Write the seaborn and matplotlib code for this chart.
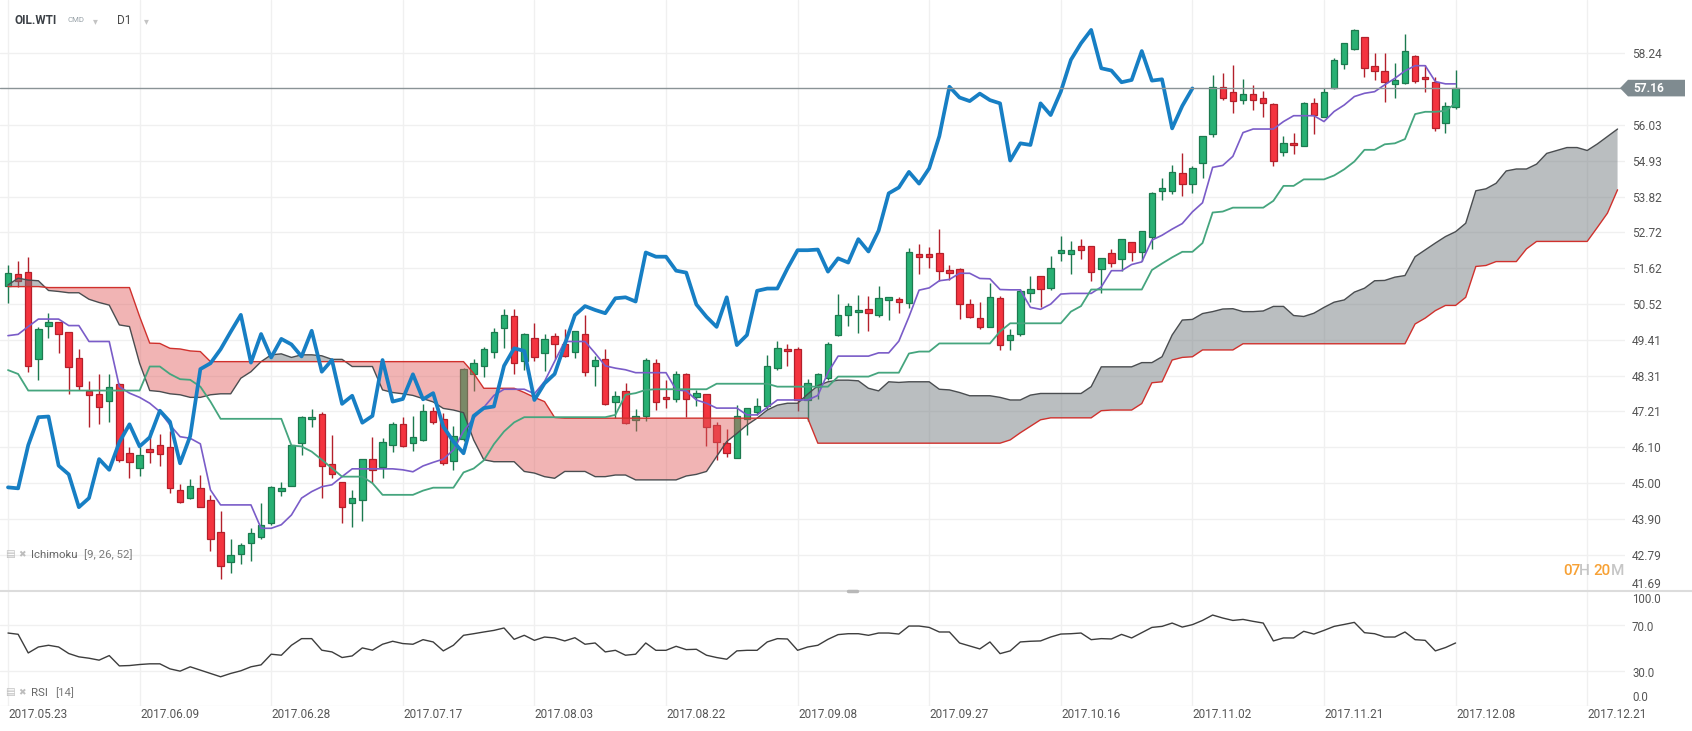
import numpy as np
import matplotlib
matplotlib.use("Agg")
import matplotlib.pyplot as plt
import matplotlib.transforms as mtransforms
from matplotlib.patches import Polygon
from matplotlib.lines import Line2D
import seaborn as sns

# ---------------- data ----------------
symbol = "OIL.WTI"
market = "CMD"
timeframe = "D1"
ichimoku_label = "Ichimoku"
ichimoku_params = "[9, 26, 52]"
rsi_label = "RSI"
rsi_params = "[14]"
last_price = 57.16
countdown = ["07", "H", "20", "M"]

date_labels = ["2017.05.23", "2017.06.09", "2017.06.28", "2017.07.17", "2017.08.03",
               "2017.08.22", "2017.09.08", "2017.09.27", "2017.10.16", "2017.11.02",
               "2017.11.21", "2017.12.08", "2017.12.21"]
date_label_bars = [0, 13, 26, 39, 52, 65, 78, 91, 104, 117, 130, 143, 156]

price_ticks = [41.69, 42.79, 43.90, 45.00, 46.10, 47.21, 48.31, 49.41, 50.52,
               51.62, 52.72, 53.82, 54.93, 56.03, 58.24]
price_tick_labels = ["41.69", "42.79", "43.90", "45.00", "46.10", "47.21", "48.31", "49.41",
                     "50.52", "51.62", "52.72", "53.82", "54.93", "56.03", "58.24"]
rsi_ticks = [100, 70, 30, 0]
rsi_tick_labels = ["100.0", "70.0", "30.0", "0.0"]

open_ = [51.08, 51.43, 51.49, 48.81, 49.85, 49.95, 49.64, 48.84, 47.85, 47.75,
         47.52, 48.04, 45.92, 45.46, 46.04, 46.17, 46.10, 44.79, 44.54, 44.86,
         44.48, 43.49, 42.58, 42.81, 43.15, 43.35, 43.77, 44.76, 44.90, 46.23,
         46.97, 47.12, 45.58, 45.03, 44.40, 44.48, 45.74, 45.49, 46.16, 46.81,
         46.23, 46.33, 47.23, 46.98, 45.68, 46.35, 48.36, 48.61, 49.03, 49.79,
         50.15, 48.77, 49.46, 49.00, 49.53, 49.27, 49.03, 49.59, 48.62, 48.82,
         47.49, 47.84, 46.95, 47.07, 48.69, 47.66, 47.58, 48.35, 47.64, 47.74,
         46.79, 46.23, 45.77, 46.97, 47.20, 47.36, 48.54, 49.13, 49.12, 47.56,
         47.95, 48.23, 49.56, 50.17, 50.26, 50.35, 50.19, 50.64, 50.67, 50.56,
         52.05, 52.05, 52.07, 51.56, 51.58, 50.50, 50.07, 49.81, 50.69, 49.42,
         49.58, 50.84, 51.39, 51.01, 52.07, 52.04, 52.30, 52.30, 51.58, 52.07,
         51.89, 52.41, 52.10, 52.58, 54.00, 54.00, 54.56, 54.22, 54.84, 55.74,
         57.20, 57.04, 56.79, 56.99, 56.87, 56.66, 55.20, 55.46, 55.39, 56.69,
         56.28, 57.15, 57.89, 58.36, 58.72, 57.84, 57.69, 57.28, 57.31, 58.15,
         57.51, 57.34, 56.08, 56.57]

high = [51.72, 51.84, 51.95, 49.80, 50.23, 49.97, 49.64, 49.12, 48.14, 48.35,
        48.35, 48.07, 46.10, 46.10, 46.64, 46.50, 46.59, 44.97, 45.12, 45.24,
        44.63, 44.14, 43.28, 43.15, 43.61, 44.38, 44.90, 45.05, 46.17, 47.07,
        47.27, 47.18, 46.48, 45.03, 44.79, 45.74, 46.41, 46.38, 46.87, 47.03,
        47.08, 47.44, 47.34, 47.15, 46.76, 48.53, 48.81, 49.20, 49.77, 50.35,
        50.35, 49.62, 49.94, 49.59, 49.63, 49.74, 49.69, 50.18, 48.92, 49.12,
        47.84, 48.08, 47.27, 48.84, 48.82, 48.18, 48.45, 48.38, 47.87, 47.74,
        46.89, 46.66, 47.41, 47.31, 47.61, 48.95, 49.38, 49.29, 49.18, 48.20,
        48.38, 49.35, 50.81, 50.53, 50.79, 50.76, 51.07, 50.74, 50.72, 52.23,
        52.35, 52.28, 52.81, 51.71, 51.61, 50.66, 50.58, 51.15, 50.76, 49.73,
        50.99, 51.37, 51.39, 51.99, 52.60, 52.46, 52.51, 52.30, 51.92, 52.22,
        52.53, 52.41, 52.77, 53.97, 54.38, 54.78, 55.15, 54.77, 55.70, 57.56,
        57.61, 57.87, 57.45, 57.27, 57.08, 56.69, 55.67, 55.77, 56.74, 56.87,
        57.17, 58.10, 58.54, 58.98, 58.72, 58.23, 58.23, 57.94, 58.83, 58.18,
        57.87, 57.51, 56.72, 57.72]

low = [50.56, 51.05, 48.43, 48.16, 49.48, 49.02, 47.74, 47.87, 46.72, 46.82,
       46.89, 45.64, 45.17, 45.23, 45.63, 45.54, 44.71, 44.38, 44.51, 44.26,
       42.92, 42.04, 42.24, 42.51, 42.61, 43.27, 43.70, 44.61, 44.90, 45.87,
       46.72, 44.54, 45.17, 43.77, 43.64, 43.82, 45.00, 45.15, 45.95, 46.11,
       46.00, 46.31, 46.82, 45.56, 45.39, 46.30, 47.85, 48.26, 48.84, 49.15,
       48.36, 48.49, 48.77, 48.46, 48.82, 48.87, 48.86, 48.31, 47.99, 47.41,
       47.00, 46.82, 46.59, 46.90, 47.25, 47.31, 47.51, 47.05, 47.36, 46.13,
       45.72, 45.82, 45.77, 46.49, 47.10, 47.27, 48.49, 48.61, 47.23, 46.90,
       47.58, 48.17, 49.52, 49.85, 49.63, 49.69, 50.10, 50.02, 50.25, 50.38,
       51.43, 51.61, 51.23, 51.25, 50.04, 50.09, 49.76, 49.81, 49.10, 49.10,
       49.53, 50.58, 50.43, 50.96, 51.84, 51.43, 51.89, 51.23, 50.84, 51.66,
       51.54, 51.84, 51.84, 52.20, 53.71, 53.90, 53.84, 53.94, 54.38, 55.64,
       56.79, 56.40, 56.66, 56.50, 56.28, 54.77, 55.08, 55.12, 55.39, 55.74,
       56.28, 57.13, 57.74, 58.33, 57.51, 57.41, 56.74, 56.85, 57.29, 57.33,
       57.05, 55.85, 55.79, 56.51]

close = [51.46, 51.23, 48.62, 49.74, 49.97, 49.58, 48.57, 47.98, 47.70, 47.33,
         47.95, 45.72, 45.64, 45.86, 45.95, 45.89, 44.84, 44.41, 44.92, 44.28,
         43.29, 42.46, 42.78, 43.10, 43.45, 43.70, 44.87, 44.84, 46.17, 47.03,
         47.05, 45.54, 45.27, 44.26, 44.54, 45.74, 45.41, 46.26, 46.81, 46.13,
         46.41, 47.23, 46.89, 45.61, 46.45, 48.51, 48.69, 49.12, 49.66, 50.18,
         48.71, 49.59, 48.87, 49.44, 49.27, 48.90, 49.69, 48.43, 48.79, 47.44,
         47.69, 46.86, 47.07, 48.79, 47.51, 47.59, 48.35, 47.58, 47.77, 46.74,
         46.28, 45.92, 47.07, 47.31, 47.36, 48.61, 49.15, 49.07, 47.56, 48.07,
         48.36, 49.27, 50.17, 50.45, 50.33, 50.23, 50.69, 50.72, 50.59, 52.10,
         51.97, 51.97, 51.54, 51.48, 50.50, 50.12, 49.81, 50.72, 49.25, 49.56,
         50.92, 50.99, 50.99, 51.61, 52.17, 52.17, 52.19, 51.51, 51.92, 51.79,
         52.51, 52.13, 52.77, 53.92, 54.10, 54.58, 54.22, 54.69, 55.68, 57.20,
         56.87, 56.76, 56.99, 56.79, 56.69, 54.93, 55.46, 55.41, 56.69, 56.33,
         57.05, 58.03, 58.54, 58.95, 57.77, 57.70, 57.34, 57.41, 58.30, 57.39,
         57.43, 55.92, 56.61, 57.15]

tenkan = [49.54, 49.58, 49.82, 50.05, 50.05, 50.05, 49.85, 49.85, 49.36, 49.36,
          49.36, 47.97, 47.77, 47.64, 47.46, 47.20, 46.79, 46.43, 46.38, 46.21,
          44.79, 44.33, 44.33, 44.33, 44.33, 43.61, 43.61, 43.72, 44.02, 44.54,
          44.74, 44.89, 44.95, 45.20, 45.44, 45.44, 45.44, 45.44, 45.44, 45.41,
          45.35, 45.53, 45.64, 45.74, 46.02, 46.60, 47.00, 47.33, 47.70, 47.89,
          47.89, 47.89, 47.75, 48.13, 48.75, 49.36, 49.36, 49.36, 49.00, 48.61,
          48.54, 48.49, 48.40, 48.40, 48.40, 48.40, 47.87, 47.84, 47.56, 47.46,
          47.31, 47.31, 47.31, 47.10, 47.10, 47.33, 47.56, 47.56, 47.56, 47.56,
          47.70, 48.40, 48.91, 48.91, 48.91, 48.91, 49.01, 49.01, 49.37, 50.12,
          50.94, 51.01, 51.23, 51.27, 51.46, 51.46, 51.30, 51.29, 50.96, 50.95,
          50.95, 50.41, 50.35, 50.51, 50.82, 50.84, 50.84, 50.84, 51.04, 51.54,
          51.54, 51.73, 51.81, 52.48, 52.63, 52.82, 52.99, 53.35, 53.63, 54.72,
          54.78, 55.06, 55.79, 55.90, 55.90, 55.90, 56.13, 56.31, 56.31, 56.31,
          56.13, 56.44, 56.64, 56.90, 57.00, 57.05, 57.26, 57.46, 57.69, 57.85,
          57.85, 57.36, 57.29, 57.29]

kijun = [48.48, 48.36, 47.85, 47.85, 47.85, 47.85, 47.85, 47.85, 47.85, 47.85,
         47.85, 47.85, 47.85, 47.85, 48.59, 48.59, 48.36, 48.20, 48.18, 47.97,
         47.51, 46.98, 46.98, 46.98, 46.98, 46.98, 46.98, 46.98, 46.16, 46.13,
         45.97, 45.72, 45.46, 45.20, 45.20, 45.20, 45.00, 44.64, 44.64, 44.64,
         44.64, 44.77, 44.86, 44.86, 44.86, 45.33, 45.45, 45.70, 46.20, 46.59,
         46.87, 47.03, 47.03, 47.03, 47.03, 47.03, 47.03, 47.03, 47.03, 47.03,
         47.10, 47.72, 47.77, 47.87, 47.89, 47.89, 47.89, 47.89, 47.89, 47.89,
         48.06, 48.06, 48.06, 48.06, 48.06, 48.06, 47.97, 47.97, 47.97, 47.97,
         47.97, 47.97, 48.28, 48.28, 48.28, 48.28, 48.40, 48.40, 48.40, 48.99,
         49.05, 49.05, 49.30, 49.30, 49.30, 49.30, 49.30, 49.30, 49.67, 49.92,
         49.92, 49.92, 49.92, 49.92, 49.92, 50.28, 50.45, 50.96, 50.96, 50.96,
         50.96, 50.96, 50.96, 51.56, 51.76, 51.95, 52.12, 52.12, 52.39, 53.33,
         53.36, 53.48, 53.48, 53.48, 53.48, 53.69, 54.15, 54.15, 54.35, 54.35,
         54.35, 54.47, 54.66, 54.90, 55.26, 55.26, 55.43, 55.46, 55.59, 56.36,
         56.43, 56.43, 56.46, 56.69]

span_a = [51.10, 51.31, 51.25, 51.23, 50.93, 50.90, 50.86, 50.86, 50.66, 50.56,
          50.48, 49.87, 49.82, 48.69, 47.85, 47.82, 47.75, 47.72, 47.64, 47.64,
          47.72, 47.75, 47.75, 48.23, 48.43, 48.74, 48.95, 48.98, 48.87, 48.95,
          48.95, 48.92, 48.81, 48.81, 48.59, 48.59, 48.59, 47.87, 47.79, 47.75,
          47.70, 47.60, 47.50, 47.30, 47.25, 47.17, 46.33, 45.72, 45.66, 45.66,
          45.66, 45.36, 45.31, 45.20, 45.15, 45.36, 45.36, 45.36, 45.20, 45.20,
          45.25, 45.25, 45.10, 45.10, 45.10, 45.10, 45.10, 45.22, 45.27, 45.36,
          45.82, 46.28, 46.53, 46.79, 47.00, 47.25, 47.40, 47.46, 47.46, 47.74,
          48.00, 48.12, 48.17, 48.17, 48.15, 47.92, 47.84, 48.12, 48.10, 48.12,
          48.12, 48.12, 47.89, 47.87, 47.79, 47.69, 47.69, 47.69, 47.64, 47.56,
          47.56, 47.71, 47.76, 47.76, 47.76, 47.76, 47.76, 47.97, 48.58, 48.58,
          48.58, 48.58, 48.71, 48.71, 48.89, 49.56, 50.02, 50.04, 50.22, 50.28,
          50.36, 50.37, 50.28, 50.28, 50.30, 50.44, 50.44, 50.16, 50.13, 50.23,
          50.41, 50.57, 50.64, 50.88, 51.00, 51.23, 51.24, 51.34, 51.39, 51.97,
          52.18, 52.39, 52.59, 52.74, 53.00, 54.00, 54.06, 54.23, 54.61, 54.67,
          54.67, 54.82, 55.15, 55.24, 55.33, 55.33, 55.24, 55.44, 55.67, 55.90]

span_b = [51.05, 51.05, 51.05, 51.05, 51.02, 51.02, 51.02, 51.02, 51.02, 51.02,
          51.02, 51.02, 51.02, 50.13, 49.31, 49.30, 49.15, 49.13, 49.07, 49.05,
          48.74, 48.74, 48.74, 48.74, 48.74, 48.74, 48.74, 48.74, 48.74, 48.74,
          48.74, 48.74, 48.74, 48.74, 48.74, 48.74, 48.74, 48.74, 48.74, 48.74,
          48.74, 48.74, 48.74, 48.74, 48.74, 48.74, 48.38, 47.92, 47.92, 47.92,
          47.92, 47.79, 47.64, 47.51, 47.02, 47.00, 47.00, 47.00, 47.00, 47.00,
          47.00, 47.00, 47.00, 47.00, 47.00, 47.00, 47.00, 47.00, 47.00, 47.00,
          47.00, 47.00, 47.00, 47.00, 47.00, 47.00, 47.00, 47.00, 47.00, 47.00,
          46.23, 46.23, 46.23, 46.23, 46.23, 46.23, 46.23, 46.23, 46.23, 46.23,
          46.23, 46.23, 46.23, 46.23, 46.23, 46.23, 46.23, 46.23, 46.23, 46.33,
          46.55, 46.75, 46.95, 47.01, 47.01, 47.01, 47.01, 47.01, 47.23, 47.25,
          47.25, 47.25, 47.45, 48.09, 48.12, 48.79, 48.87, 48.89, 49.10, 49.10,
          49.10, 49.10, 49.29, 49.29, 49.29, 49.29, 49.29, 49.29, 49.29, 49.29,
          49.29, 49.29, 49.29, 49.29, 49.29, 49.29, 49.29, 49.29, 49.29, 49.90,
          50.08, 50.31, 50.47, 50.47, 50.72, 51.67, 51.70, 51.82, 51.82, 51.82,
          52.21, 52.44, 52.44, 52.44, 52.44, 52.44, 52.44, 52.87, 53.31, 54.03]

rsi = [63.3, 62.2, 45.9, 51.1, 52.6, 51.1, 45.4, 42.5, 41.3, 39.6,
       43.6, 34.6, 34.9, 35.8, 36.4, 36.4, 32.0, 30.0, 33.8, 30.9,
       28.0, 25.1, 28.0, 30.3, 33.8, 35.5, 44.8, 43.9, 52.6, 58.4,
       58.4, 48.3, 46.8, 41.9, 43.3, 50.3, 48.3, 53.5, 56.1, 54.1,
       53.5, 57.5, 55.5, 47.7, 52.6, 61.3, 62.7, 64.2, 65.6, 67.7,
       57.8, 61.3, 56.9, 59.8, 59.0, 56.4, 59.2, 53.5, 54.6, 46.8,
       48.2, 43.9, 44.8, 54.6, 48.2, 48.2, 51.7, 48.8, 49.1, 43.9,
       41.9, 40.4, 47.7, 48.2, 48.2, 55.5, 58.4, 58.1, 48.2, 51.1,
       52.6, 57.8, 61.9, 62.7, 62.7, 61.3, 63.3, 63.3, 62.4, 69.4,
       69.4, 68.2, 64.2, 64.2, 54.6, 52.0, 49.4, 55.5, 45.3, 47.7,
       55.5, 56.1, 56.4, 59.8, 62.4, 62.7, 63.3, 57.5, 58.4, 58.1,
       62.1, 59.0, 63.6, 68.2, 69.1, 72.0, 68.5, 70.6, 74.3, 79.0,
       76.4, 74.3, 75.2, 73.5, 72.0, 56.4, 59.0, 59.0, 64.8, 62.4,
       65.6, 69.1, 70.8, 72.6, 63.6, 62.7, 59.8, 59.8, 64.2, 57.5,
       56.9, 47.7, 50.6, 54.6]

chikou_shift = 26

# ---------------- styling ----------------
GREEN_FILL, GREEN_EDGE = "#28b073", "#1c7a4f"
RED_FILL, RED_EDGE = "#f4343f", "#b3202b"
TENKAN_C, KIJUN_C = "#7a5cc8", "#45a57e"
SPAN_A_C, SPAN_B_C = "#4a4d50", "#d0312d"
CLOUD_UP, CLOUD_DN = "#6f777c", "#e05a5a"
CHIKOU_C = "#177fc4"
GRID_C = "#f0f0f0"
TICK_C = "#555555"

sns.set_theme(style="white")
plt.rcParams["font.family"] = ["Roboto", "DejaVu Sans"]

W, H = 1692, 731
fig = plt.figure(figsize=(W / 100, H / 100), dpi=100)
fig.patch.set_facecolor("white")


def fx(px):
    return px / W


def fy(py):
    return 1 - py / H


PLOT_RIGHT = 1625
BAR_PX = 10.123
FIRST_PX = 8
MAIN_BOTTOM = 591
RSI_BOTTOM = 705.5

ax = fig.add_axes([0, fy(MAIN_BOTTOM), fx(PLOT_RIGHT), MAIN_BOTTOM / H])
ax_r = fig.add_axes([0, fy(RSI_BOTTOM), fx(PLOT_RIGHT), (RSI_BOTTOM - MAIN_BOTTOM) / H])
for a in (ax, ax_r):
    a.set_facecolor("none")
    for s in a.spines.values():
        s.set_visible(False)

o = np.array(open_)
h = np.array(high)
l = np.array(low)
c = np.array(close)
x = np.arange(len(c))
up = c >= o

# candles
ax.vlines(x, l, h, colors=np.where(up, GREEN_EDGE, RED_EDGE), linewidth=1.0, zorder=2)
body_lo = np.minimum(o, c)
body_h = np.maximum(np.abs(c - o), 0.05)
ax.bar(x, body_h, bottom=body_lo, width=0.64,
       color=np.where(up, GREEN_FILL, RED_FILL),
       edgecolor=np.where(up, GREEN_EDGE, RED_EDGE), linewidth=0.9, zorder=3)

# cloud
sa = np.array(span_a)
sb = np.array(span_b)
xc = np.arange(len(sa))
ax.fill_between(xc, sa, sb, where=sa >= sb, interpolate=True, color=CLOUD_UP,
                alpha=0.48, linewidth=0, zorder=4)
ax.fill_between(xc, sa, sb, where=sa < sb, interpolate=True, color=CLOUD_DN,
                alpha=0.45, linewidth=0, zorder=4)
sns.lineplot(x=xc, y=sa, ax=ax, color=SPAN_A_C, linewidth=1.0, zorder=5)
sns.lineplot(x=xc, y=sb, ax=ax, color=SPAN_B_C, linewidth=1.0, zorder=5)

# tenkan / kijun
sns.lineplot(x=x, y=np.array(tenkan), ax=ax, color=TENKAN_C, linewidth=1.2, zorder=6)
sns.lineplot(x=x, y=np.array(kijun), ax=ax, color=KIJUN_C, linewidth=1.3, zorder=6)

# chikou (lagging span): close plotted 26 bars back
sns.lineplot(x=x[:len(c) - chikou_shift], y=c[chikou_shift:], ax=ax,
             color=CHIKOU_C, linewidth=2.7, zorder=7)

# last price line
ax.axhline(last_price, color="#8a9396", linewidth=1.0, zorder=8)

# axes limits / grid
xlim = (-FIRST_PX / BAR_PX, (PLOT_RIGHT - FIRST_PX) / BAR_PX)
y_per_px = 1.1035 / 35.85
ax.set_xlim(*xlim)
ax.set_ylim(price_ticks[0] - 0.01, price_ticks[0] - 0.01 + MAIN_BOTTOM * y_per_px)
ax.set_xticks(date_label_bars)
ax.set_yticks(price_ticks)
ax.set_yticklabels(price_tick_labels)
ax.yaxis.tick_right()
ax.tick_params(axis="y", length=0, pad=5, labelsize=8.6, labelcolor=TICK_C)
ax.tick_params(axis="x", length=0, labelbottom=False)
ax.grid(True, color=GRID_C, linewidth=1.0, zorder=0)
ax.set_axisbelow(True)
ax.set_xlabel("")
ax.set_ylabel("")
ax.get_yticklabels()[0].set_verticalalignment("bottom")

# RSI panel
sns.lineplot(x=x, y=np.array(rsi), ax=ax_r, color="#3d3d3d", linewidth=1.0, zorder=3)
ax_r.set_xlim(*xlim)
ax_r.set_ylim(0, 100)
ax_r.set_xticks(date_label_bars)
ax_r.set_yticks([0, 30, 70])
ax_r.tick_params(axis="both", length=0, labelbottom=False, labelleft=False, labelright=False)
ax_r.grid(True, color=GRID_C, linewidth=1.0, zorder=0)
ax_r.set_axisbelow(True)
ax_r.set_xlabel("")
ax_r.set_ylabel("")

tr_r = mtransforms.blended_transform_factory(fig.transFigure, ax_r.transData)
for v, lab in zip(rsi_ticks, rsi_tick_labels):
    va = "top" if v == 100 else ("bottom" if v == 0 else "center")
    fig.text(fx(1632), v + (-1.5 if v == 100 else (1.5 if v == 0 else -2)), lab,
             transform=tr_r, ha="left", va=va, fontsize=8.3, color=TICK_C)

# date labels
tr_d = mtransforms.blended_transform_factory(ax_r.transData, fig.transFigure)
for b, lab in zip(date_label_bars, date_labels):
    fig.text(b + 0.05, fy(714), lab, transform=tr_d, ha="left", va="center",
             fontsize=8.5, color=TICK_C)

# panel separator
fig.add_artist(Line2D([0, 1], [fy(MAIN_BOTTOM), fy(MAIN_BOTTOM)], transform=fig.transFigure,
                      color="#dcdcdc", linewidth=1.5))
fig.add_artist(Line2D([fx(848), fx(857)], [fy(MAIN_BOTTOM), fy(MAIN_BOTTOM)],
                      transform=fig.transFigure, color="#b8b8b8", linewidth=2.5))

# price tag
tr_p = mtransforms.blended_transform_factory(fig.transFigure, ax.transData)
half = 8.3 * y_per_px
tag = Polygon([(fx(1620), last_price), (fx(1628), last_price + half), (fx(1685), last_price + half),
               (fx(1685), last_price - half), (fx(1628), last_price - half)],
              closed=True, transform=tr_p, facecolor="#7f8b90", edgecolor="none")
fig.add_artist(tag)
fig.text(fx(1633), last_price, f"{last_price:.2f}", transform=tr_p, ha="left", va="center",
         fontsize=8.6, color="white", fontweight="bold")

# header
fig.text(fx(14), fy(20.5), symbol, ha="left", va="center", fontsize=8.5,
         fontweight="bold", color="#3b4046")
fig.text(fx(67), fy(20.5), market, ha="left", va="center", fontsize=5.6, color="#98a2a8")
fig.text(fx(93), fy(21), "\u25be", ha="left", va="center", fontsize=7, color="#c4c4c4",
         family=["DejaVu Sans"])
fig.text(fx(117), fy(20.5), timeframe, ha="left", va="center", fontsize=8.5, color="#4a4a4a")
fig.text(fx(144), fy(21), "\u25be", ha="left", va="center", fontsize=7, color="#c4c4c4",
         family=["DejaVu Sans"])

# indicator captions
for ypx, name, params in [(554.5, ichimoku_label, ichimoku_params), (692.5, rsi_label, rsi_params)]:
    fig.text(fx(5), fy(ypx), "\u25a4", ha="left", va="center", fontsize=7.5, color="#bdbdbd",
             family=["DejaVu Sans"])
    fig.text(fx(18), fy(ypx), "\u2716", ha="left", va="center", fontsize=6.5, color="#bdbdbd",
             family=["DejaVu Sans"])
    t = fig.text(fx(31), fy(ypx), name, ha="left", va="center", fontsize=8.2, color="#666666")
    fig.canvas.draw()
    bb = t.get_window_extent()
    fig.text(bb.x1 / W + fx(7), fy(ypx), params, ha="left", va="center", fontsize=8.2,
             color="#7a7a7a")

# countdown
cd_x = [1563, 1579, 1593, 1611]
cd_c = ["#f7a135", "#c6c6c6", "#f7a135", "#c6c6c6"]
for xp, s, col in zip(cd_x, countdown, cd_c):
    fig.text(fx(xp), fy(571), s, ha="left", va="center", fontsize=11, color=col,
             fontweight="medium")

fig.savefig("out.png", dpi=100, facecolor="white")
